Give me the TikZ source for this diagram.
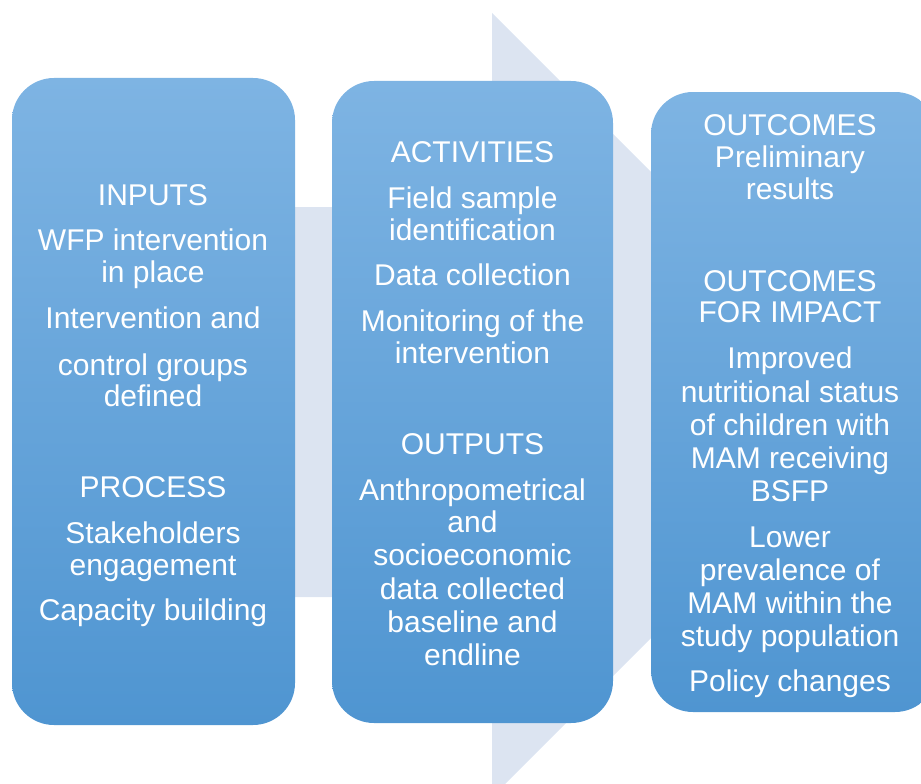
\documentclass[tikz,border=0pt]{standalone}
\usepackage{fontspec}
\setmainfont{Liberation Sans}
\usepackage{tikz}

\definecolor{arrowbg}{HTML}{DCE4F1}
\definecolor{boxtop}{HTML}{7EB4E3}
\definecolor{boxbot}{HTML}{4F95D1}

\tikzset{
    stagebox/.style = {rounded corners = 42pt, inner sep = 0pt,
        top color = boxtop, bottom color = boxbot},
    stagetext/.style = {text = white, anchor = base, inner sep = 0pt,
        font = \fontsize{30}{33}\selectfont}
}

\begin{document}
\begin{tikzpicture}[x = 1pt, y = -1pt]
        \useasboundingbox (0,0) rectangle (921,784);
        % big arrow in the back
        \fill[arrowbg] (150,207) -- (492,207) -- (492,13) -- (884,405)
            -- (492,797) -- (492,597) -- (150,597) -- cycle;
        % the three stages
        \node (inputsbox)[stagebox, minimum width = 283pt, minimum height = 647pt] at (153.5,401.5) {};
        \node (activbox)[stagebox, minimum width = 281pt, minimum height = 642pt] at (472.5,402) {};
        \node (outcomebox)[stagebox, minimum width = 286pt, minimum height = 620pt] at (794,402) {};
        \foreach \txt/\yy [count = \i] in {INPUTS/205, WFP intervention/250,
            in place/282, Intervention and/328, control groups/375, defined/406,
            PROCESS/497, Stakeholders/543, engagement/575, Capacity building/620}
            \node (inputs-\i)[stagetext] at (153,\yy) {\txt};
        \foreach \txt/\yy [count = \i] in {ACTIVITIES/162, Field sample/208,
            identification/240, Data collection/285, Monitoring of the/331,
            intervention/363, OUTPUTS/454, Anthropometrical/500, and/532,
            socioeconomic/565, data collected/599, baseline and/632, endline/665}
            \node (activ-\i)[stagetext] at (472.5,\yy) {\txt};
        \foreach \txt/\yy [count = \i] in {OUTCOMES/135, Preliminary/167,
            results/199, OUTCOMES/291, FOR IMPACT/322, Improved/368,
            nutritional status/402, of children with/435, MAM receiving/468,
            BSFP/501, Lower/547, prevalence of/580, MAM within the/613,
            study population/646, Policy changes/691}
            \node (outcome-\i)[stagetext] at (790,\yy) {\txt};
    \end{tikzpicture}
\end{document}
